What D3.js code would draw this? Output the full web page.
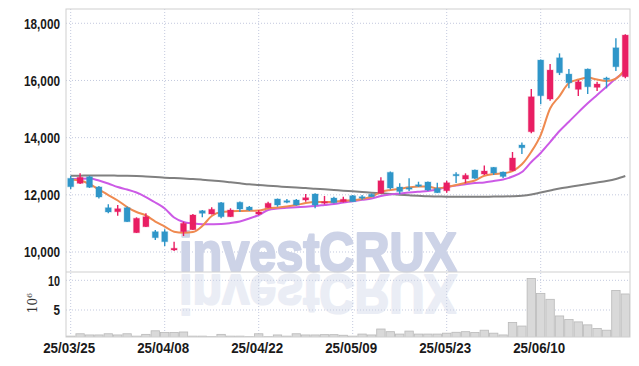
<!DOCTYPE html>
<html>
<head>
<meta charset="utf-8">
<title>Candles</title>
<script src="https://cdn.jsdelivr.net/npm/d3@7/dist/d3.min.js"></script>
<style>
  body { margin: 0; background: #fff; }
  .tick-label { font-family: "Liberation Sans", Arial, sans-serif; font-weight: bold; font-size: 14.5px; fill: #1a1a1a; }
</style>
</head>
<body>
<div id="chart"></div>
<script>
// trading days, yy/mm/dd
var dates = ["25/03/25","25/03/26","25/03/27","25/03/28","25/03/31","25/04/01","25/04/02","25/04/03","25/04/04","25/04/07",
  "25/04/08","25/04/09","25/04/10","25/04/11","25/04/14","25/04/15","25/04/16","25/04/17","25/04/18","25/04/21",
  "25/04/22","25/04/23","25/04/24","25/04/25","25/04/28","25/04/29","25/04/30","25/05/02","25/05/07","25/05/08",
  "25/05/09","25/05/12","25/05/13","25/05/14","25/05/15","25/05/16","25/05/19","25/05/20","25/05/21","25/05/22",
  "25/05/23","25/05/26","25/05/27","25/05/28","25/05/29","25/05/30","25/06/02","25/06/04","25/06/05","25/06/09",
  "25/06/10","25/06/11","25/06/12","25/06/13","25/06/16","25/06/17","25/06/18","25/06/19","25/06/20","25/06/23"];

var open = [12577,12402,12633,12276,11549,11409,11549,10675,10884,10710,
  10710,10070,10710,10780,11444,11329,11724,11234,11738,11573,
  11329,11549,11853,11794,11818,11818,12028,11724,11888,11759,
  11969,11934,12017,12052,12787,12273,12248,12353,12448,12227,
  12143,12717,12553,12867,12727,12962,12797,12843,13742,14207,
  16714,15350,16794,16224,15689,16399,15759,16085,17144,16130];
var high = [12668,12752,12668,12308,11668,11643,11591,11213,11353,10769,
  10794,10360,11059,11328,11468,11563,11748,11528,11766,11608,
  11468,11759,11871,11853,11853,12028,12052,11958,11934,11934,
  11993,11993,12045,12612,12815,12402,12577,12458,12465,12423,
  12493,12787,12752,12885,13025,12972,12815,13497,13829,15700,
  16731,16574,16948,16399,16015,16417,15955,16130,17473,17613];
var low = [12203,12378,12238,11870,11353,11269,11049,10664,10874,10419,
  10210,10035,10559,10769,11213,11311,11178,11224,11398,11433,
  11294,11538,11584,11703,11626,11759,11528,11668,11703,11731,
  11748,11818,11923,12045,12185,12028,12133,12273,12133,12063,
  12073,12413,12402,12553,12692,12692,12587,12832,13427,14151,
  15165,15291,16189,15724,15455,15525,15630,15724,16329,16074];
var close = [12283,12612,12262,11923,11399,11514,11059,11178,11234,10500,
  10360,10129,11003,11294,11353,11493,11234,11468,11503,11468,
  11399,11703,11643,11738,11643,11899,11643,11759,11724,11843,
  11759,11888,11934,12493,12238,12115,12213,12308,12168,12073,
  12423,12682,12682,12577,12832,12762,12640,13287,13647,15431,
  15466,16364,16270,15920,15955,15780,15875,16050,16480,17588];

// volume, millions of shares
var volume = [0.6,1.0,0.8,0.8,1.0,0.8,1.0,0.6,0.9,1.5,
  1.2,1.2,1.3,0.6,0.6,0.5,0.9,0.6,0.6,0.5,
  1.0,0.5,0.8,0.6,1.0,0.8,0.8,0.85,0.85,0.75,
  0.6,0.95,0.8,1.8,1.35,0.95,1.45,0.95,0.95,0.95,
  1.1,1.25,1.35,1.2,1.6,1.1,0.8,2.9,2.3,10.3,
  7.8,6.8,4.0,3.4,3.0,2.5,1.9,1.6,8.3,7.7];

// moving averages
var maShort = [12535,12500,12378,12185,11993,11801,11573,11399,11276,11066,
  10891,10710,10675,10699,10909,11259,11399,11423,11433,11440,
  11451,11521,11556,11591,11643,11713,11748,11748,11759,11794,
  11808,11853,11934,12098,12168,12213,12262,12290,12290,12227,
  12273,12343,12423,12500,12668,12727,12752,12832,13067,13507,
  14091,15018,15455,15910,16032,16102,16032,15980,16067,16399];
var maMid = [12553,12563,12570,12500,12395,12273,12185,12080,11923,11731,
  11521,11206,11049,10996,10968,10972,10979,11014,11066,11171,
  11294,11468,11521,11545,11566,11584,11608,11643,11678,11731,
  11776,11825,11871,11958,12010,12045,12080,12108,12133,12185,
  12273,12325,12367,12413,12430,12483,12535,12640,12797,13147,
  13462,13846,14231,14556,14885,15200,15490,15780,16067,16312];
var maLong = [12668,12671,12675,12675,12675,12671,12668,12657,12640,12622,
  12598,12587,12570,12553,12528,12500,12472,12437,12402,12367,
  12343,12318,12297,12273,12255,12238,12213,12192,12168,12143,
  12122,12098,12073,12052,12028,12003,11983,11965,11948,11941,
  11934,11930,11930,11930,11934,11937,11941,11951,11969,12010,
  12080,12150,12220,12273,12325,12378,12430,12483,12553,12657];

var priceTicks = [10000, 12000, 14000, 16000, 18000];
var volTicks = [5, 10];
var labelDates = ["25/03/25","25/04/08","25/04/22","25/05/09","25/05/23","25/06/10"];

(function () {
  var W = 639, H = 366;
  var mLeft = 66, mRight = 630, mTop = 9, priceBottom = 272, volBottom = 337;
  var upColor = "#e91e63", downColor = "#2f96c9";
  var gridColor = "#c3c9de";

  var svg = d3.select("#chart").append("svg")
    .attr("width", W).attr("height", H);

  var x = d3.scaleBand().domain(dates).range([mLeft, mRight]).padding(0);
  var cx = function (d) { return x(d) + x.bandwidth() / 2; };
  var y = d3.scaleLinear().domain([9300, 18500]).range([priceBottom, mTop]);
  var yv = d3.scaleLinear().domain([0, 11.4]).range([339.7, priceBottom]);

  var defs = svg.append("defs");
  defs.append("clipPath").attr("id", "clipPrice").append("rect")
    .attr("x", mLeft).attr("y", mTop).attr("width", mRight - mLeft).attr("height", priceBottom - mTop);
  defs.append("clipPath").attr("id", "clipVol").append("rect")
    .attr("x", mLeft).attr("y", priceBottom).attr("width", mRight - mLeft).attr("height", volBottom - priceBottom);

  // grid
  var grid = svg.append("g").attr("stroke", gridColor).attr("stroke-dasharray", "1,2");
  grid.selectAll(".hg").data(priceTicks).enter().append("line")
    .attr("x1", mLeft).attr("x2", mRight)
    .attr("y1", function (d) { return y(d); }).attr("y2", function (d) { return y(d); });
  grid.selectAll(".vg").data(volTicks).enter().append("line")
    .attr("x1", mLeft).attr("x2", mRight)
    .attr("y1", function (d) { return yv(d); }).attr("y2", function (d) { return yv(d); });
  grid.selectAll(".xg").data(labelDates).enter().append("line")
    .attr("x1", cx).attr("x2", cx)
    .attr("y1", mTop).attr("y2", volBottom);

  // watermark and its reflection
  var wm = svg.append("g")
    .style("font-family", "Liberation Sans, Arial, sans-serif").style("font-weight", "bold")
    .style("font-size", "55px").attr("fill", "#cdd3e7")
    .attr("stroke", "#cdd3e7").attr("stroke-width", 2.2).attr("stroke-linejoin", "round");
  wm.append("text").text("investCRUX")
    .attr("x", 179).attr("y", 271)
    .attr("textLength", 278).attr("lengthAdjust", "spacingAndGlyphs");
  wm.append("text").text("investCRUX")
    .attr("x", 179).attr("y", -275)
    .attr("transform", "scale(1,-1)")
    .attr("textLength", 278).attr("lengthAdjust", "spacingAndGlyphs")
    .attr("opacity", 0.4);

  // volume
  svg.append("g").attr("clip-path", "url(#clipVol)")
    .selectAll("rect").data(dates).enter().append("rect")
    .attr("x", function (d) { return x(d) + 0.5; })
    .attr("width", x.bandwidth() - 1)
    .attr("y", function (d, i) { return yv(volume[i]); })
    .attr("height", function (d, i) { return yv(0) - yv(volume[i]); })
    .attr("fill", "#d9d9d9").attr("stroke", "#b9b9b9").attr("stroke-width", 0.8);

  // moving averages
  var pg = svg.append("g").attr("clip-path", "url(#clipPrice)");
  function maLine(arr, color, w) {
    var line = d3.line()
      .x(function (d, i) { return cx(dates[i]); })
      .y(function (d) { return y(d); })
      .curve(d3.curveMonotoneX);
    pg.append("path").datum(arr).attr("d", line)
      .attr("fill", "none").attr("stroke", color).attr("stroke-width", w);
  }
  maLine(maLong, "#808080", 2);
  maLine(maMid, "#cc5ae6", 2);
  maLine(maShort, "#ef8a50", 2);

  // candles
  var cw = 6;
  var isUp = function (i) { return close[i] >= open[i]; };
  var candles = pg.selectAll(".candle").data(dates).enter().append("g");
  candles.append("line")
    .attr("x1", cx).attr("x2", cx)
    .attr("y1", function (d, i) { return y(high[i]); })
    .attr("y2", function (d, i) { return y(low[i]); })
    .attr("stroke", function (d, i) { return isUp(i) ? upColor : downColor; })
    .attr("stroke-width", 1.4);
  candles.append("rect")
    .attr("x", function (d) { return cx(d) - cw / 2; })
    .attr("width", cw)
    .attr("y", function (d, i) { return y(Math.max(open[i], close[i])); })
    .attr("height", function (d, i) { return Math.max(1.5, Math.abs(y(open[i]) - y(close[i]))); })
    .attr("fill", function (d, i) { return isUp(i) ? upColor : downColor; })
    .attr("stroke", function (d, i) { return isUp(i) ? "rgba(233,30,99,0.25)" : "rgba(47,150,201,0.25)"; })
    .attr("stroke-width", 1.2);

  // frame
  var frame = svg.append("g").attr("fill", "none").attr("stroke", "#cfcfcf");
  frame.append("rect").attr("x", mLeft).attr("y", mTop).attr("width", mRight - mLeft).attr("height", volBottom - mTop);
  frame.append("line").attr("x1", mLeft).attr("x2", mRight).attr("y1", priceBottom).attr("y2", priceBottom);

  // axis labels
  svg.selectAll(".py").data(priceTicks).enter().append("text")
    .attr("class", "tick-label")
    .attr("x", 60).attr("y", function (d) { return y(d); })
    .attr("dy", "0.36em").attr("text-anchor", "end")
    .attr("textLength", 36).attr("lengthAdjust", "spacingAndGlyphs")
    .text(d3.format(","));
  svg.selectAll(".vy").data(volTicks).enter().append("text")
    .attr("class", "tick-label")
    .attr("x", 60).attr("y", function (d) { return yv(d); })
    .attr("dy", "0.36em").attr("text-anchor", "end")
    .attr("textLength", function (d) { return d >= 10 ? 12 : 6.5; }).attr("lengthAdjust", "spacingAndGlyphs")
    .text(function (d) { return d; });
  svg.selectAll(".xl").data(labelDates).enter().append("text")
    .attr("class", "tick-label")
    .attr("x", function (d) { return cx(d) - 1.5; }).attr("y", 353)
    .attr("text-anchor", "middle")
    .attr("textLength", 52).attr("lengthAdjust", "spacingAndGlyphs")
    .text(function (d) { return d; });

  var unit = svg.append("text")
    .attr("transform", "translate(37,303) rotate(-90)")
    .attr("text-anchor", "middle")
    .style("font-family", "DejaVu Serif, serif").style("font-size", "12px").attr("fill", "#333");
  unit.append("tspan").text("10");
  unit.append("tspan").attr("dy", "-5").style("font-size", "8px").text("6");
})();
</script>
</body>
</html>
